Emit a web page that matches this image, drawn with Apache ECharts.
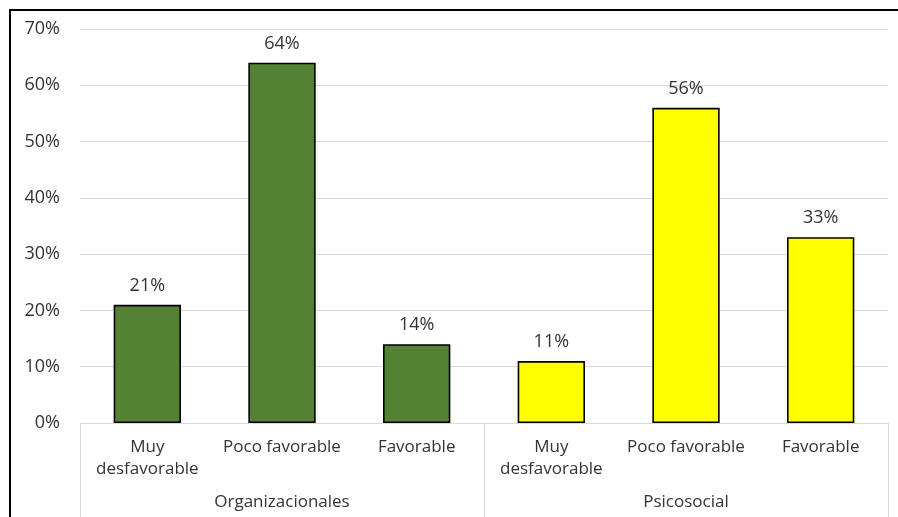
<!DOCTYPE html>
<html><head><meta charset="utf-8">
<script src="https://cdn.jsdelivr.net/npm/echarts@6/dist/echarts.min.js"></script>
<style>html,body{margin:0;padding:0;background:#fff}#c{width:898px;height:517px}</style>
</head><body><div id="c"></div>
<script>
const categories = ['Muy\ndesfavorable','Poco favorable','Favorable','Muy\ndesfavorable','Poco favorable','Favorable'];
const groups = ['Organizacionales','Psicosocial'];
const values = [21, 64, 14, 11, 56, 33];
const barColors = ['#548235','#548235','#548235','#FFFF00','#FFFF00','#FFFF00'];
const yTicks = {min: 0, max: 70, interval: 10};

const font = '"Open Sans", "Noto Sans", sans-serif';
const txt = '#333333';
const chart = echarts.init(document.getElementById('c'));
chart.setOption({
  animation: false,
  backgroundColor: '#fff',
  graphic: [{type:'rect', shape:{x:10,y:10,width:900,height:520}, style:{fill:'none',stroke:'#000',lineWidth:2}, z:100}],
  grid: {left: 80, right: 10, top: 29, bottom: 94},
  xAxis: [{
    type: 'category', data: categories, position: 'bottom',
    axisLine: {show: true, lineStyle: {color: '#d9d9d9', width: 1}},
    axisTick: {show: false},
    axisLabel: {interval: 0, color: txt, fontSize: 17, fontFamily: font, margin: 13, lineHeight: 22}
  },{
    type: 'category', data: groups, position: 'bottom',
    axisLine: {show: false},
    axisTick: {show: true, length: 96, lineStyle: {color: '#d9d9d9', width: 1}},
    axisLabel: {interval: 0, color: txt, fontSize: 17, fontFamily: font, margin: 71}
  }],
  yAxis: {
    type: 'value', min: yTicks.min, max: yTicks.max, interval: yTicks.interval,
    axisLine: {show: false}, axisTick: {show: false},
    splitLine: {lineStyle: {color: '#d9d9d9', width: 1}},
    axisLabel: {formatter: '{value}%', color: txt, fontSize: 18, fontFamily: font, margin: 20}
  },
  series: [{
    type: 'bar', xAxisIndex: 0, barWidth: '50%',
    data: values.map((v, i) => ({value: v, itemStyle: {color: barColors[i], borderColor: '#000', borderWidth: 1.6}})),
    label: {show: true, position: 'top', distance: 10, formatter: '{c}%', color: txt, fontSize: 18, fontFamily: font}
  }]
});
</script></body></html>
